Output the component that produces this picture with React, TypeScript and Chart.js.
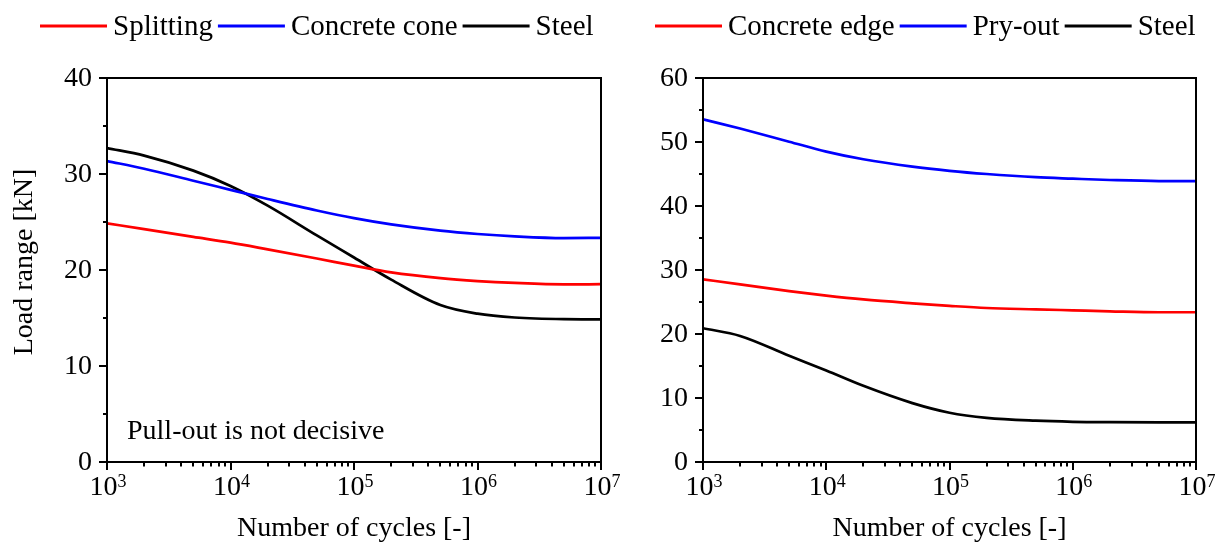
import React, { useEffect, useRef } from "react";
import { Chart, registerables } from "chart.js";

Chart.register(...registerables);

// ---------- data ----------
const cycles = [1000, 2000, 5000, 10000, 20000, 50000, 100000, 200000, 500000, 1000000, 2000000, 5000000, 10000000];

// left panel (tension)
const splitting = [24.86, 24.25, 23.45, 22.85, 22.15, 21.2, 20.45, 19.75, 19.15, 18.85, 18.65, 18.5, 18.52];
const concreteCone = [31.35, 30.55, 29.3, 28.35, 27.4, 26.2, 25.4, 24.75, 24.1, 23.75, 23.5, 23.32, 23.35];
const steelTension = [32.7, 31.92, 30.35, 28.75, 26.7, 23.6, 21.3, 19.0, 16.35, 15.45, 15.05, 14.88, 14.86];

// right panel (shear)
const concreteEdge = [28.55, 27.76, 26.7, 26.0, 25.4, 24.8, 24.4, 24.06, 23.85, 23.7, 23.55, 23.4, 23.4];
const pryOut = [53.55, 52.1, 50.05, 48.5, 47.3, 46.15, 45.5, 45.0, 44.5, 44.27, 44.06, 43.9, 43.9];
const steelShear = [20.9, 19.7, 16.6, 14.3, 11.9, 9.2, 7.7, 6.9, 6.45, 6.28, 6.22, 6.2, 6.2];

const leftYTicks = [0, 10, 20, 30, 40];
const leftYMinor = [5, 15, 25, 35];
const rightYTicks = [0, 10, 20, 30, 40, 50, 60];
const rightYMinor = [5, 15, 25, 35, 45, 55];

const xDecades = [1000, 10000, 100000, 1000000, 10000000];
const xExponents = ["3", "4", "5", "6", "7"];

const leftLabels = ["Splitting", "Concrete cone", "Steel"];
const rightLabels = ["Concrete edge", "Pry-out", "Steel"];
const seriesColors = ["#ff0000", "#0000ff", "#000000"];

const yTitle = "Load range [kN]";
const xTitle = "Number of cycles [-]";
const note = "Pull-out is not decisive";

const FONT = '"Liberation Serif", "Times New Roman", serif';

type PanelCfg = {
  width: number;
  padLeft: number;
  padRight: number;
  yMax: number;
  yTicks: number[];
  yMinor: number[];
  labels: string[];
  series: number[][];
  legendX: number;
  showYTitle: boolean;
  note?: string;
};

function makePlugin(cfg: PanelCfg) {
  return {
    id: "customAxes",
    afterDraw(chart: any) {
      const { ctx, chartArea: a, scales } = chart;
      const xs = scales.x;
      const ys = scales.y;
      ctx.save();
      ctx.strokeStyle = "#000";
      ctx.fillStyle = "#000";
      ctx.lineWidth = 2;
      ctx.strokeRect(a.left, a.top, a.right - a.left, a.bottom - a.top);

      // y ticks
      ctx.beginPath();
      cfg.yTicks.forEach((v) => {
        const py = Math.round(ys.getPixelForValue(v));
        ctx.moveTo(a.left - 8, py);
        ctx.lineTo(a.left, py);
      });
      cfg.yMinor.forEach((v) => {
        const py = Math.round(ys.getPixelForValue(v));
        ctx.moveTo(a.left - 4, py);
        ctx.lineTo(a.left, py);
      });
      // x ticks
      xDecades.forEach((v) => {
        const px = Math.round(xs.getPixelForValue(v));
        ctx.moveTo(px, a.bottom);
        ctx.lineTo(px, a.bottom + 8);
      });
      for (let d = 0; d < xDecades.length - 1; d++) {
        for (let m = 2; m <= 9; m++) {
          const px = Math.round(xs.getPixelForValue(xDecades[d] * m));
          ctx.moveTo(px, a.bottom);
          ctx.lineTo(px, a.bottom + 4.5);
        }
      }
      ctx.stroke();

      // y tick labels
      ctx.font = `28px ${FONT}`;
      ctx.textAlign = "right";
      ctx.textBaseline = "middle";
      cfg.yTicks.forEach((v) => {
        const py = ys.getPixelForValue(v);
        ctx.fillText(String(v), a.left - 15, py + 1);
      });

      // x tick labels with superscripts
      ctx.textBaseline = "alphabetic";
      ctx.textAlign = "left";
      xDecades.forEach((v, i) => {
        const px = xs.getPixelForValue(v);
        ctx.font = `28px ${FONT}`;
        const w1 = ctx.measureText("10").width;
        ctx.font = `18px ${FONT}`;
        const w2 = ctx.measureText(xExponents[i]).width;
        const x0 = px - (w1 + w2) / 2 + 1;
        ctx.font = `28px ${FONT}`;
        ctx.fillText("10", x0, 495);
        ctx.font = `18px ${FONT}`;
        ctx.fillText(xExponents[i], x0 + w1, 487);
      });

      // axis titles
      ctx.font = `28px ${FONT}`;
      ctx.textAlign = "center";
      ctx.fillText(xTitle, (a.left + a.right) / 2, 536);
      if (cfg.showYTitle) {
        ctx.save();
        ctx.translate(25, 262);
        ctx.rotate(-Math.PI / 2);
        ctx.textBaseline = "middle";
        ctx.fillText(yTitle, 0, 0);
        ctx.restore();
      }

      // note
      if (cfg.note) {
        ctx.textAlign = "left";
        ctx.textBaseline = "alphabetic";
        ctx.fillText(cfg.note, a.left + 20, 439);
      }

      // legend
      ctx.font = `29px ${FONT}`;
      ctx.textAlign = "left";
      ctx.textBaseline = "middle";
      let x = cfg.legendX;
      const ly = 26;
      cfg.labels.forEach((lab, i) => {
        ctx.strokeStyle = seriesColors[i];
        ctx.lineWidth = 3;
        ctx.beginPath();
        ctx.moveTo(x, ly);
        ctx.lineTo(x + 67, ly);
        ctx.stroke();
        ctx.fillStyle = "#000";
        ctx.fillText(lab, x + 73, ly + 1);
        x = x + 73 + ctx.measureText(lab).width + 5;
      });
      ctx.restore();
    },
  };
}

function Panel({ cfg, left }: { cfg: PanelCfg; left: number }) {
  const ref = useRef<HTMLCanvasElement | null>(null);
  useEffect(() => {
    if (!ref.current) return;
    const chart = new Chart(ref.current, {
      type: "line",
      data: {
        datasets: cfg.series.map((vals, i) => ({
          label: cfg.labels[i],
          data: cycles.map((c, j) => ({ x: c, y: vals[j] })),
          borderColor: seriesColors[i],
          backgroundColor: seriesColors[i],
          borderWidth: 2.7,
          pointRadius: 0,
          fill: false,
          cubicInterpolationMode: "monotone",
        })),
      },
      options: {
        responsive: false,
        animation: false,
        devicePixelRatio: 1,
        events: [],
        layout: { padding: { left: cfg.padLeft, right: cfg.padRight, top: 78, bottom: 85 } },
        plugins: { legend: { display: false }, tooltip: { enabled: false } },
        scales: {
          x: { type: "logarithmic", display: false, min: 1000, max: 10000000 },
          y: { type: "linear", display: false, min: 0, max: cfg.yMax },
        },
      },
      plugins: [makePlugin(cfg)],
    } as any);
    return () => chart.destroy();
  }, []);
  return (
    <canvas
      ref={ref}
      width={cfg.width}
      height={547}
      style={{ position: "absolute", left, top: 0, width: cfg.width, height: 547 }}
    />
  );
}

const leftCfg: PanelCfg = {
  width: 640,
  padLeft: 107,
  padRight: 39,
  yMax: 40,
  yTicks: leftYTicks,
  yMinor: leftYMinor,
  labels: leftLabels,
  series: [splitting, concreteCone, steelTension],
  legendX: 40,
  showYTitle: true,
  note,
};

const rightCfg: PanelCfg = {
  width: 611,
  padLeft: 91,
  padRight: 27,
  yMax: 60,
  yTicks: rightYTicks,
  yMinor: rightYMinor,
  labels: rightLabels,
  series: [concreteEdge, pryOut, steelShear],
  legendX: 43,
  showYTitle: false,
};

export default function App() {
  return (
    <div style={{ position: "absolute", left: 0, top: 0, width: 1223, height: 547, background: "#fff" }}>
      <Panel cfg={leftCfg} left={0} />
      <Panel cfg={rightCfg} left={612} />
    </div>
  );
}
